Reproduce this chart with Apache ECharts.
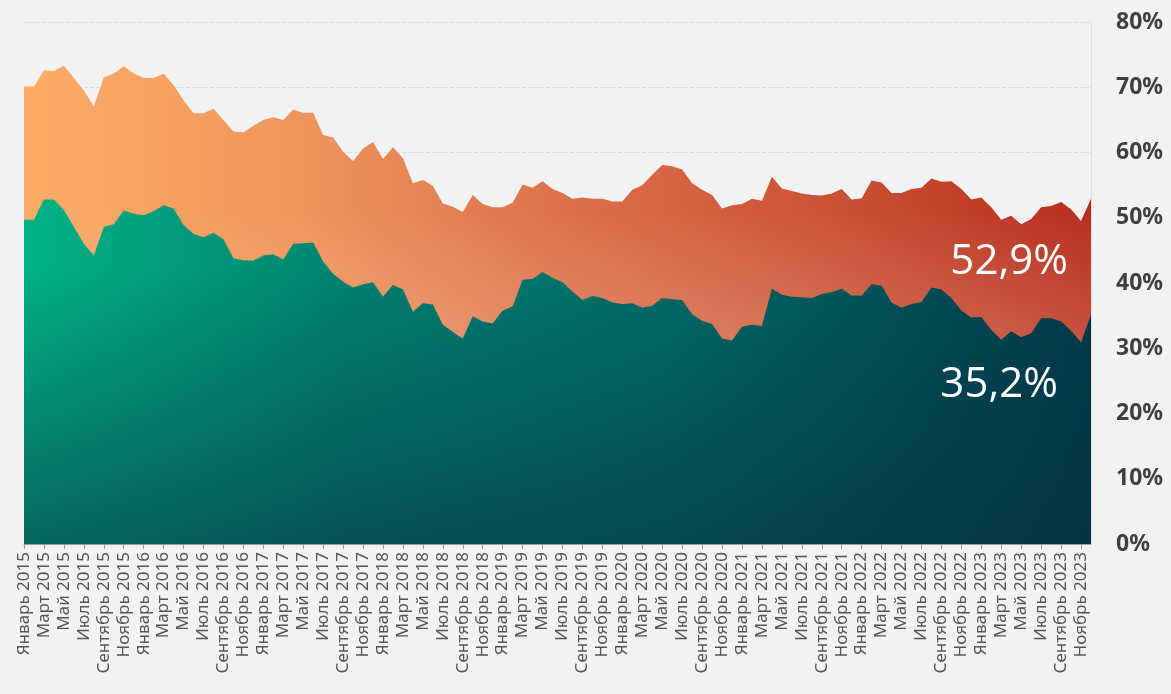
<!DOCTYPE html>
<html lang="ru">
<head>
    <meta http-equiv="Content-Type" content="text/html; charset=utf-8"/>
    <title>Chart</title>
    <script type="text/javascript" src="https://cdn.jsdelivr.net/npm/echarts/dist/echarts.min.js"></script>
</head>
<body style="height: 100%; margin: 0; background: #f2f2f2;">
<div id="container" style="width: 1171px; height: 694px;"></div>
<script type="text/javascript">
    // подписи месяцев
    var monthNames = ['Январь','Февраль','Март','Апрель','Май','Июнь','Июль','Август','Сентябрь','Октябрь','Ноябрь','Декабрь'];
    var years = [2015, 2016, 2017, 2018, 2019, 2020, 2021, 2022, 2023];

    // верхний ряд (оранжевый), %
    var upperValues = [
        70.1, 70.1, 72.6, 72.5, 73.3, 71.4, 69.5, 67.1, 71.5, 72.1, 73.2, 72.1,
        71.4, 71.4, 72.1, 70.3, 68.0, 66.0, 66.0, 66.7, 65.0, 63.2, 63.1, 64.1,
        65.0, 65.4, 65.0, 66.6, 66.1, 66.1, 62.7, 62.3, 60.1, 58.7, 60.6, 61.6,
        59.0, 60.8, 59.1, 55.3, 55.8, 54.9, 52.2, 51.7, 50.9, 53.5, 52.1, 51.6,
        51.6, 52.3, 55.1, 54.6, 55.6, 54.4, 53.8, 52.9, 53.1, 52.9, 52.9, 52.5,
        52.5, 54.3, 55.0, 56.6, 58.1, 57.9, 57.4, 55.3, 54.3, 53.5, 51.4, 51.9,
        52.1, 52.9, 52.6, 56.3, 54.5, 54.1, 53.7, 53.5, 53.4, 53.7, 54.4, 52.8,
        53.0, 55.7, 55.4, 53.8, 53.8, 54.4, 54.6, 56.0, 55.5, 55.6, 54.4, 52.8,
        53.1, 51.6, 49.7, 50.3, 49.0, 49.8, 51.6, 51.8, 52.4, 51.3, 49.5, 52.9
    ];
    // нижний ряд (зелёный), %
    var lowerValues = [
        49.7, 49.7, 52.8, 52.8, 51.2, 48.6, 46.0, 44.2, 48.6, 49.0, 51.1, 50.6,
        50.4, 51.0, 51.9, 51.4, 48.9, 47.5, 47.0, 47.7, 46.7, 43.8, 43.5, 43.4,
        44.2, 44.4, 43.6, 46.0, 46.1, 46.2, 43.3, 41.4, 40.2, 39.3, 39.8, 40.1,
        37.9, 39.7, 39.0, 35.6, 36.9, 36.7, 33.6, 32.5, 31.5, 34.9, 34.1, 33.8,
        35.8, 36.4, 40.5, 40.6, 41.7, 40.8, 40.1, 38.7, 37.4, 38.0, 37.7, 37.0,
        36.8, 36.9, 36.2, 36.5, 37.7, 37.5, 37.4, 35.2, 34.2, 33.7, 31.5, 31.2,
        33.3, 33.6, 33.4, 39.1, 38.2, 37.9, 37.8, 37.7, 38.3, 38.6, 39.1, 38.1,
        38.1, 39.8, 39.6, 37.0, 36.2, 36.8, 37.1, 39.3, 39.0, 37.7, 35.8, 34.7,
        34.8, 32.8, 31.3, 32.6, 31.7, 32.3, 34.6, 34.6, 34.1, 32.7, 30.9, 35.2
    ];

    var categories = [];
    years.forEach(function (y) {
        monthNames.forEach(function (m) {
            categories.push(m + ' ' + y);
        });
    });

    function fmt(v) {
        return v.toFixed(1).replace('.', ',') + '%';
    }

    function areaSeries(name, data, color, z) {
        return {
            name: name,
            type: 'line',
            data: data,
            symbol: 'none',
            silent: true,
            lineStyle: {width: 0},
            areaStyle: {opacity: 1, color: color},
            z: z
        };
    }

    var dom = document.getElementById("container");
    var myChart = echarts.init(dom);

    var option = {
        backgroundColor: '#f2f2f2',
        animation: false,
        grid: {
            left: 24,
            right: 80,
            top: 22,
            bottom: 150
        },
        xAxis: {
            type: 'category',
            data: categories,
            boundaryGap: false,
            axisLine: {lineStyle: {color: '#9a9a9a', width: 1}},
            axisTick: {show: true, interval: 1, length: 5, lineStyle: {color: '#9a9a9a'}},
            axisLabel: {
                interval: 1,
                rotate: 90,
                color: '#555555',
                fontSize: 17,
                fontFamily: 'Noto Sans',
                margin: 8
            },
            splitLine: {show: false}
        },
        yAxis: {
            type: 'value',
            position: 'right',
            min: 0,
            max: 80,
            interval: 10,
            axisLine: {show: true, lineStyle: {color: '#e0e0e0'}},
            axisTick: {show: false},
            axisLabel: {
                formatter: '{value}%',
                color: '#3f3f3f',
                fontSize: 23,
                fontWeight: 'bold',
                fontFamily: 'Noto Sans',
                margin: 25
            },
            splitLine: {lineStyle: {color: '#dddddd', type: 'dashed', width: 1}}
        },
        series: [
            // оранжевая область
            areaSeries('upper', upperValues, new echarts.graphic.LinearGradient(0, 0, 1, 0, [
                {offset: 0, color: '#fdad68'},
                {offset: 0.25, color: '#f0965c'},
                {offset: 0.5, color: '#dd714b'},
                {offset: 0.75, color: '#cb5336'},
                {offset: 1, color: '#b72d1c'}
            ]), 2),
            // осветление снизу
            areaSeries('upperShade', upperValues, new echarts.graphic.LinearGradient(0, 0, 0, 1, [
                {offset: 0, color: 'rgba(255,238,225,0)'},
                {offset: 0.3, color: 'rgba(255,238,225,0)'},
                {offset: 1, color: 'rgba(255,238,225,0.5)'}
            ]), 3),
            // зелёная область
            areaSeries('lower', lowerValues, new echarts.graphic.LinearGradient(0, 0, 1, 0, [
                {offset: 0, color: '#00b286'},
                {offset: 0.3, color: '#00836f'},
                {offset: 0.6, color: '#006c68'},
                {offset: 1, color: '#003a4c'}
            ]), 4),
            // затемнение снизу
            areaSeries('lowerShade', lowerValues, new echarts.graphic.LinearGradient(0, 0, 0, 1, [
                {offset: 0, color: 'rgba(10,42,64,0)'},
                {offset: 0.2, color: 'rgba(10,42,64,0)'},
                {offset: 1, color: 'rgba(10,42,64,0.55)'}
            ]), 5)
        ]
    };
    myChart.setOption(option, true);

    // подписи последних значений
    var last = categories.length - 1;
    var pUp = myChart.convertToPixel({gridIndex: 0}, [categories[last], upperValues[last]]);
    var pLo = myChart.convertToPixel({gridIndex: 0}, [categories[last], lowerValues[last]]);
    myChart.setOption({
        graphic: [
            {
                type: 'text', z: 10,
                x: pUp[0] - 23, y: pUp[1] + 63,
                style: {
                    text: fmt(upperValues[last]), fill: '#ffffff',
                    font: 'normal 42px "Open Sans"', textAlign: 'right', textVerticalAlign: 'middle'
                }
            },
            {
                type: 'text', z: 10,
                x: pLo[0] - 33, y: pLo[1] + 71,
                style: {
                    text: fmt(lowerValues[last]), fill: '#ffffff',
                    font: 'normal 42px "Open Sans"', textAlign: 'right', textVerticalAlign: 'middle'
                }
            }
        ]
    });
</script>
</body>
</html>
